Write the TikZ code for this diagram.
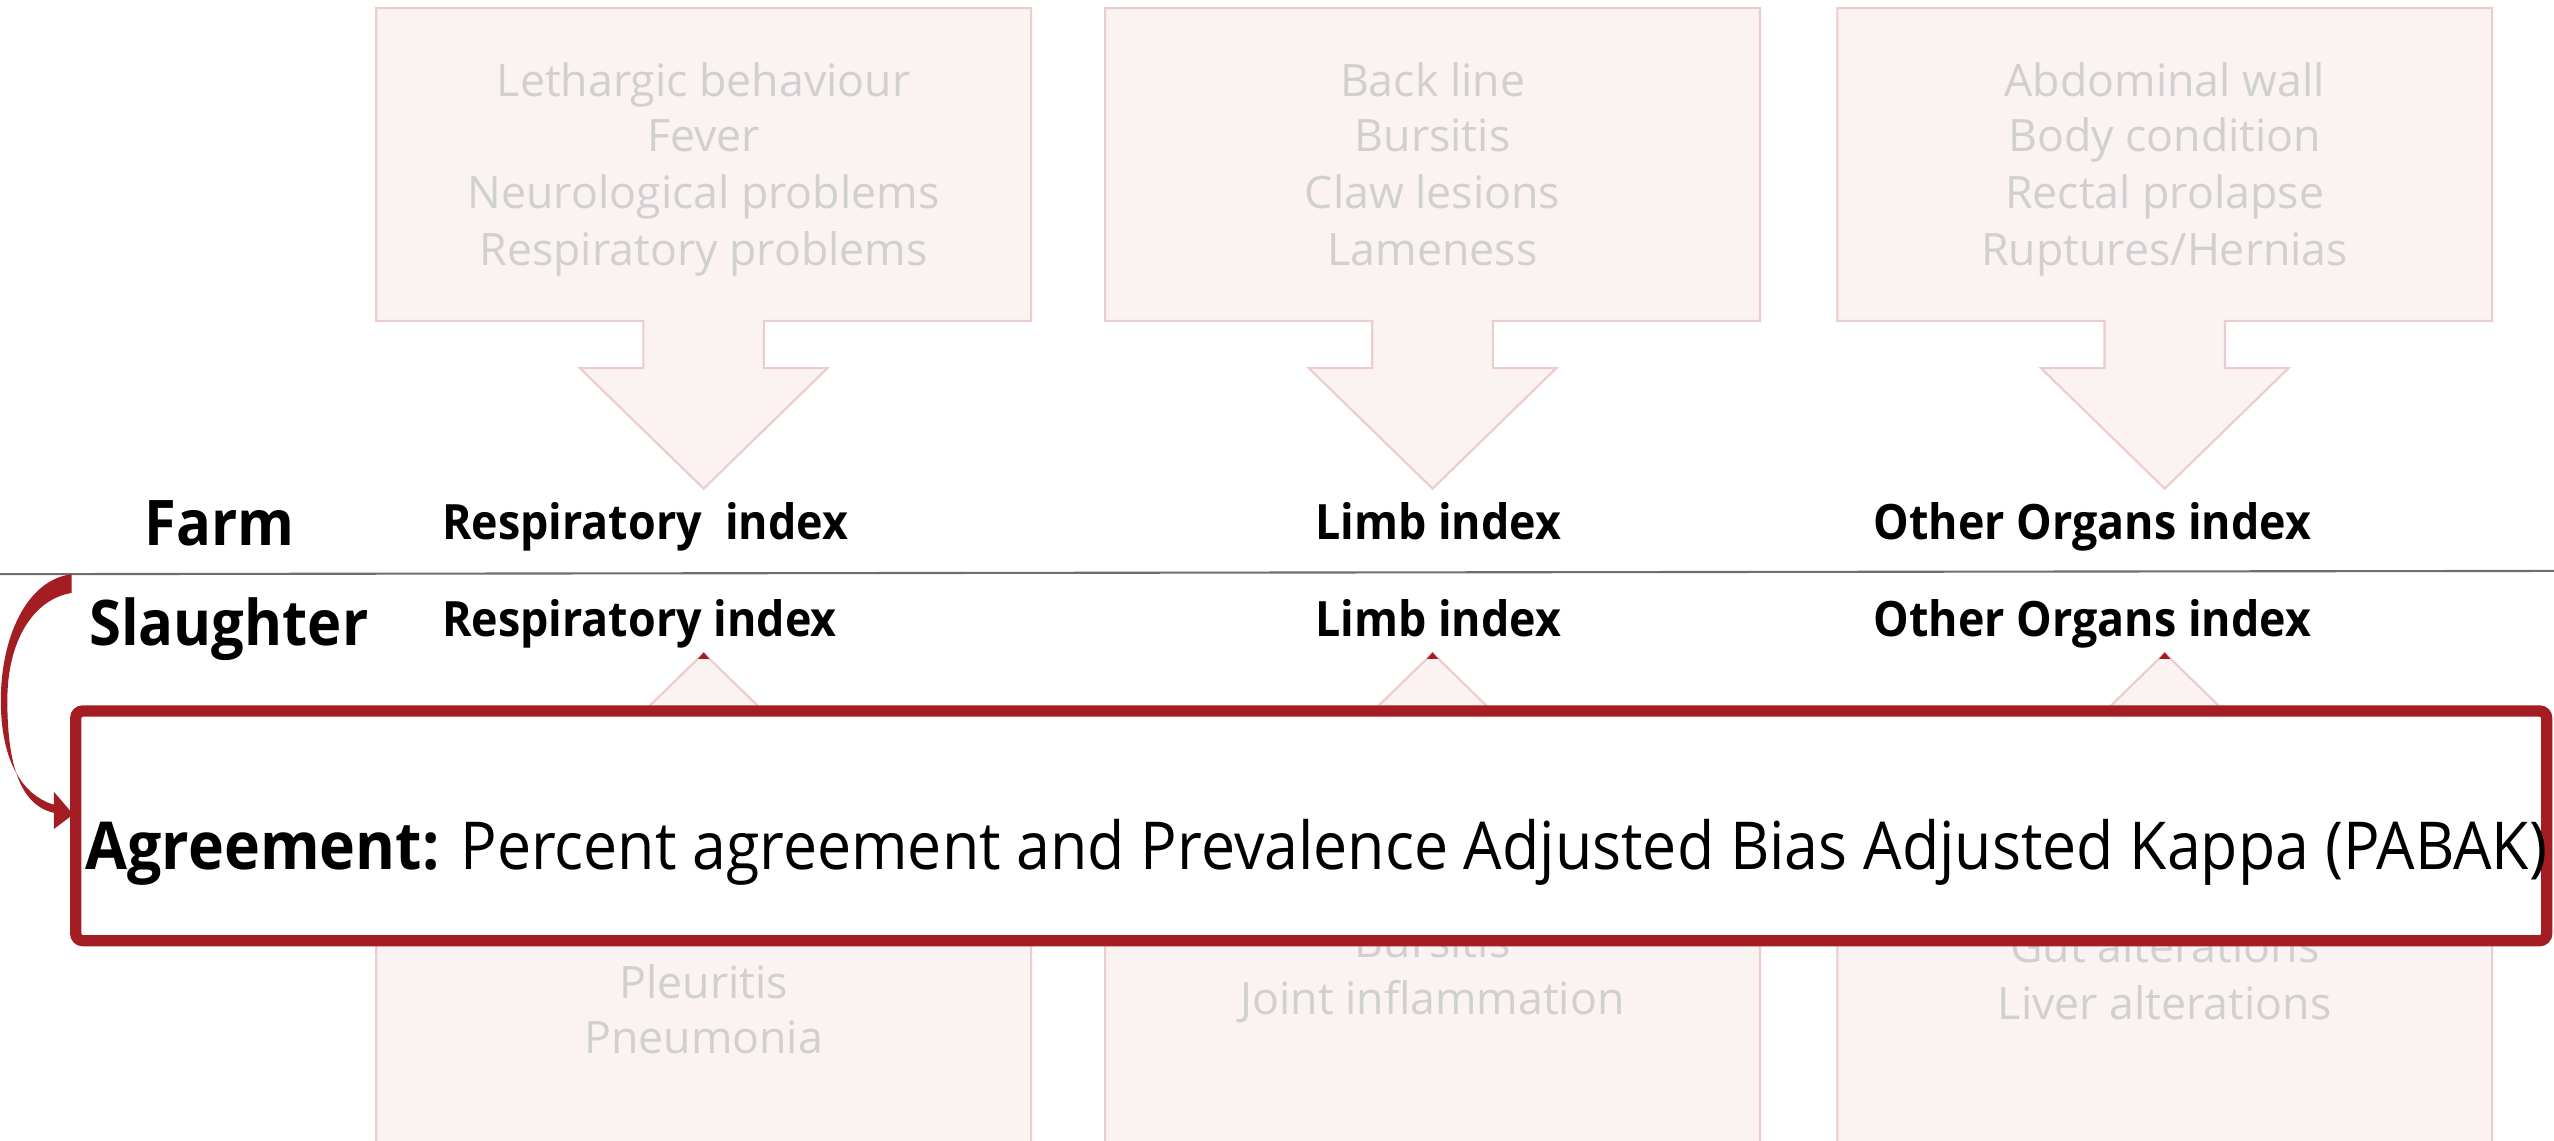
\documentclass[tikz,border=0pt]{standalone}
\usepackage{fontspec}
\setmainfont{Open Sans}
\newfontfamily\narrowfont[FakeStretch=0.92]{Open Sans}
\definecolor{boxfill}{RGB}{251,242,242}
\definecolor{boxline}{RGB}{236,204,204}
\definecolor{ghosttext}{RGB}{208,208,208}
\definecolor{agred}{RGB}{163,29,35}
\definecolor{sepgray}{RGB}{110,110,110}
\begin{document}
\begin{tikzpicture}[x=0.016288cm,y=-0.016288cm,
  callout/.style={draw=boxline, fill=boxfill, line width=0.6pt, line join=miter},
  ghost/.style={text=ghosttext, font=\fontsize{12.7}{15}\selectfont, inner sep=0pt, anchor=base},
  idx/.style={font=\narrowfont\bfseries\fontsize{13.85}{16}\selectfont, inner sep=0pt, anchor=base west},
  stage/.style={font=\narrowfont\bfseries\fontsize{17.9}{21}\selectfont, inner sep=0pt, anchor=base},
  agbox/.style={draw=agred, line width=3.2pt, rounded corners=2pt, fill=white},
  agtext/.style={font=\narrowfont\fontsize{18.8}{22}\selectfont, inner sep=0pt, anchor=base west}]
\useasboundingbox (0,0) rectangle (1568,700);
\fill[white] (0,0) rectangle (1568,700);

% top callouts (box + down arrow)
\foreach \cx in {432,879.5,1329} {
  \draw[callout] (\cx-201,5) -- (\cx+201,5) -- (\cx+201,197) -- (\cx+37,197) -- (\cx+37,226)
    -- (\cx+76,226) -- (\cx,300) -- (\cx-76,226) -- (\cx-37,226) -- (\cx-37,197)
    -- (\cx-201,197) -- cycle;
}
% bottom callouts (up arrow + box)
\foreach \cx in {432,879.5,1329} {
  \draw[callout] (\cx,401) -- (\cx+76,475) -- (\cx+37,475) -- (\cx+37,504) -- (\cx+201,504)
    -- (\cx+201,712) -- (\cx-201,712) -- (\cx-201,504) -- (\cx-37,504) -- (\cx-37,475)
    -- (\cx-76,475) -- cycle;
  \fill[agred] (\cx-3.5,404.5) -- (\cx,400.5) -- (\cx+3.5,404.5) -- cycle;
}

% top texts
\node[ghost] (t1a) at (432,59) {Lethargic behaviour};
\node[ghost] (t1b) at (432,93) {Fever};
\node[ghost] (t1c) at (432,128) {Neurological problems};
\node[ghost] (t1d) at (432,163) {Respiratory problems};
\node[ghost] (t2a) at (879.5,59) {Back line};
\node[ghost] (t2b) at (879.5,93) {Bursitis};
\node[ghost] (t2c) at (879.5,128) {Claw lesions};
\node[ghost] (t2d) at (879.5,163) {Lameness};
\node[ghost] (t3a) at (1329,59) {Abdominal wall};
\node[ghost] (t3b) at (1329,93) {Body condition};
\node[ghost] (t3c) at (1329,128) {Rectal prolapse};
\node[ghost] (t3d) at (1329,163) {Ruptures/Hernias};

% bottom texts
\node[ghost] (b1a) at (432,613) {Pleuritis};
\node[ghost] (b1b) at (432,647) {Pneumonia};
\node[ghost] (b2a) at (879.5,588) {Bursitis};
\node[ghost] (b2b) at (879.5,623) {Joint inflammation};
\node[ghost] (b3a) at (1329,591) {Gut alterations};
\node[ghost] (b3b) at (1329,626) {Liver alterations};

% separator
\draw[sepgray, line width=0.6pt] (0,352.5) coordinate (sepL) -- (1568,350.5) coordinate (sepR);

% stage labels
\node[stage] (farm) at (135,335) {Farm};
\node[stage] (slaughter) at (140.5,396) {Slaughter};

% index labels
\node[idx] (fresp) at (271,331) {Respiratory\ \ index};
\node[idx] (flimb) at (807,331) {Limb index};
\node[idx] (foth) at (1150,331) {Other Organs index};
\node[idx] (sresp) at (271,391) {Respiratory index};
\node[idx] (slimb) at (807,391) {Limb index};
\node[idx] (soth) at (1150,391) {Other Organs index};

% agreement box
\draw[agbox] (46.5,436.5) rectangle (1563.5,577.5);
\coordinate (agree) at (46.5,507);
\node[agtext] (agtxt) at (52,534) {\textbf{Agreement:} Percent agreement and Prevalence Adjusted Bias Adjusted Kappa (PABAK)};

% curved arrow from the separator to the agreement box
\fill[agred] (44,352.5) .. controls (16,356) and (0.5,392) .. (0.5,430)
  .. controls (0.5,466) and (13,488) .. (33,494) -- (33,486) -- (45,500) -- (33,509) -- (33,499)
  .. controls (11,494) and (4.5,466) .. (4.5,430) .. controls (4.5,394) and (20,368) .. (44,364) -- cycle;
\end{tikzpicture}
\end{document}
